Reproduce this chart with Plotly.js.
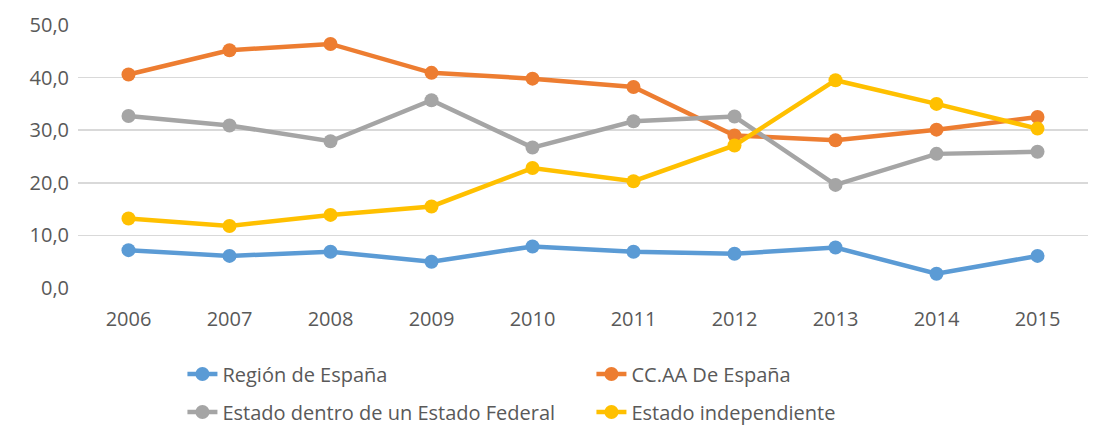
<!DOCTYPE html>
<html>
<head>
<meta charset="utf-8">
<script src="https://cdn.plot.ly/plotly-3.0.1.min.js"></script>
<style>html,body{margin:0;padding:0;background:#fff;}#chart{width:1102px;height:428px;}</style>
</head>
<body>
<div id="chart"></div>
<script>
const years = ["2006","2007","2008","2009","2010","2011","2012","2013","2014","2015"];
const regionEspana = [7.2, 6.1, 6.9, 5.0, 7.9, 6.9, 6.5, 7.7, 2.7, 6.1];
const ccaaEspana = [40.6, 45.2, 46.4, 40.9, 39.8, 38.2, 29.0, 28.1, 30.1, 32.5];
const estadoFederal = [32.7, 30.9, 27.9, 35.7, 26.7, 31.7, 32.6, 19.6, 25.5, 25.9];
const estadoIndependiente = [13.2, 11.8, 13.9, 15.5, 22.8, 20.3, 27.1, 39.5, 35.0, 30.3];
const seriesNames = ["Región de España", "CC.AA De España", "Estado dentro de un Estado Federal", "Estado independiente"];
const yTicks = [0, 10, 20, 30, 40, 50];

const colors = ["#5B9BD5", "#ED7D31", "#A5A5A5", "#FFC000"];
const data = [regionEspana, ccaaEspana, estadoFederal, estadoIndependiente];
const legends = ["legend", "legend", "legend2", "legend2"];

const traces = data.map((vals, i) => ({
  x: years, y: vals, name: seriesNames[i], type: "scatter", mode: "lines+markers",
  line: {color: colors[i], width: 4.5},
  marker: {color: colors[i], size: 14},
  legend: legends[i]
}));

const font = {family: "Open Sans, sans-serif", color: "#595959"};
const legendCommon = {
  orientation: "h", xanchor: "left", yanchor: "middle", x: 0.1034,
  xref: "paper", yref: "container",
  entrywidth: 364, entrywidthmode: "pixels",
  font: {family: font.family, color: "#595959", size: 20},
  bgcolor: "rgba(0,0,0,0)", borderwidth: 0
};

const layout = {
  width: 1102, height: 428,
  margin: {l: 77.5, r: 13.5, t: 25, b: 140, autoexpand: false},
  paper_bgcolor: "#fff", plot_bgcolor: "#fff",
  font: font,
  separators: ",.",
  showlegend: true,
  xaxis: {
    type: "category", range: [-0.5, 9.5], showgrid: false, zeroline: false, showline: false,
    ticks: "", tickfont: {size: 20, color: "#595959"}, ticklabelstandoff: 17, automargin: false
  },
  yaxis: {
    range: [0, 50], tickvals: yTicks, tickformat: ".1f", showgrid: true,
    gridcolor: "#D9D9D9", gridwidth: 1.5, zeroline: false, showline: false,
    ticks: "", tickfont: {size: 20, color: "#595959"}, ticklabelstandoff: 8, automargin: false
  },
  legend: Object.assign({}, legendCommon, {y: 1 - 374 / 428}),
  legend2: Object.assign({}, legendCommon, {y: 1 - 412 / 428})
};

Plotly.newPlot("chart", traces, layout, {displayModeBar: false, staticPlot: true});
</script>
</body>
</html>
